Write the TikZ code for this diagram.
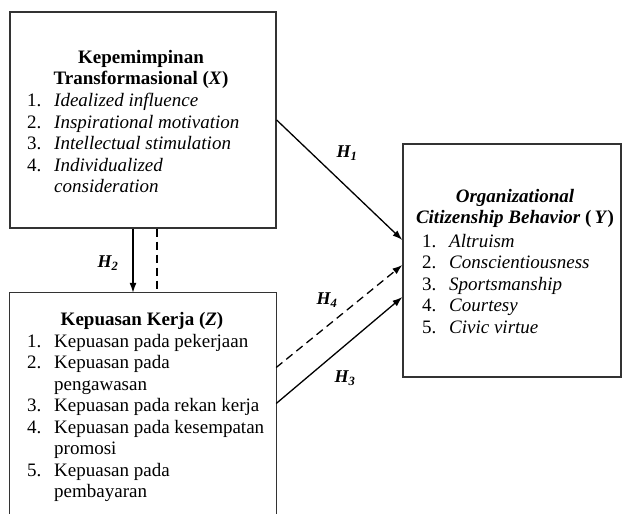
\documentclass[tikz,border=0pt]{standalone}
\usepackage{fontspec}
\setmainfont{Liberation Serif}
\usetikzlibrary{positioning, arrows.meta}

\tikzset{
  box/.style={draw=black!80, line width=1.3pt, inner sep=0pt},
  head/.style={font=\fontsize{19}{21.5}\selectfont\bfseries, align=center, inner sep=0pt, anchor=north},
  list/.style={font=\fontsize{19}{21.5}\selectfont, align=left, inner sep=0pt, anchor=north west},
  hyp/.style={font=\fontsize{18}{20}\selectfont\bfseries\itshape, inner sep=1pt},
  arr/.style={line width=1.3pt, -{Latex[length=10pt,width=7pt]}},
  dashline/.style={dash pattern=on 8pt off 5pt}
}
\newcommand{\itm}[2]{\makebox[27pt][l]{#1}#2}

\begin{document}
\begin{tikzpicture}[x=1pt, y=-1pt]
  \useasboundingbox (0,0) rectangle (624,514);

  % Transformational leadership box
  \node[box, minimum width=266pt, minimum height=216pt] (X) at (143,120) {};
  \node[head] (xhead) at (141,50) {Kepemimpinan\\Transformasional (\textit{X})};
  \node[list] (xlist) at (27,93) {%
    \itm{1.}{\textit{Idealized influence}}\\
    \itm{2.}{\textit{Inspirational motivation}}\\
    \itm{3.}{\textit{Intellectual stimulation}}\\
    \itm{4.}{\textit{Individualized}}\\
    \itm{}{\textit{consideration}}};

  % Job satisfaction box (runs off the bottom)
  \node[inner sep=0pt, minimum width=266pt, minimum height=221pt] (Z) at (143,403.5) {};
  \draw[black!80, line width=1.3pt] (Z.south west) -- (Z.north west) -- (Z.north east) -- (Z.south east);
  \node[head] (zhead) at (142,312) {Kepuasan Kerja (\textit{Z})};
  \node[list] (zlist) at (27,334) {%
    \itm{1.}{Kepuasan pada pekerjaan}\\
    \itm{2.}{Kepuasan pada}\\
    \itm{}{pengawasan}\\
    \itm{3.}{Kepuasan pada rekan kerja}\\
    \itm{4.}{Kepuasan pada kesempatan}\\
    \itm{}{promosi}\\
    \itm{5.}{Kepuasan pada}\\
    \itm{}{pembayaran}};

  % OCB box
  \node[box, minimum width=218pt, minimum height=233pt] (Y) at (512,260.5) {};
  \node[head] (yhead) at (515,189) {\textit{Organizational}\\\textit{Citizenship Behavior} (\,\textit{Y})};
  \node[list] (ylist) at (422,234) {%
    \itm{1.}{\textit{Altruism}}\\
    \itm{2.}{\textit{Conscientiousness}}\\
    \itm{3.}{\textit{Sportsmanship}}\\
    \itm{4.}{\textit{Courtesy}}\\
    \itm{5.}{\textit{Civic virtue}}};

  % Hypotheses
  \draw[arr] (X.east) -- ([yshift=20.5pt]Y.west);
  \draw[arr] ([xshift=-10pt]X.south) -- ([xshift=-10pt]Z.north);
  \draw[line width=1.3pt, dashline] ([xshift=14pt]X.south) -- ([xshift=14pt]Z.north);
  \draw[arr, dashline] ([yshift=36pt]Z.east) -- ([yshift=-4.5pt]Y.west);
  \draw[arr] (Z.east) -- ([yshift=-36.5pt]Y.west);

  \node[hyp] (h1) at (347,153) {H\textsubscript{1}};
  \node[hyp] (h2) at (108,263) {H\textsubscript{2}};
  \node[hyp] (h4) at (327,300) {H\textsubscript{4}};
  \node[hyp] (h3) at (345,378) {H\textsubscript{3}};
\end{tikzpicture}
\end{document}
